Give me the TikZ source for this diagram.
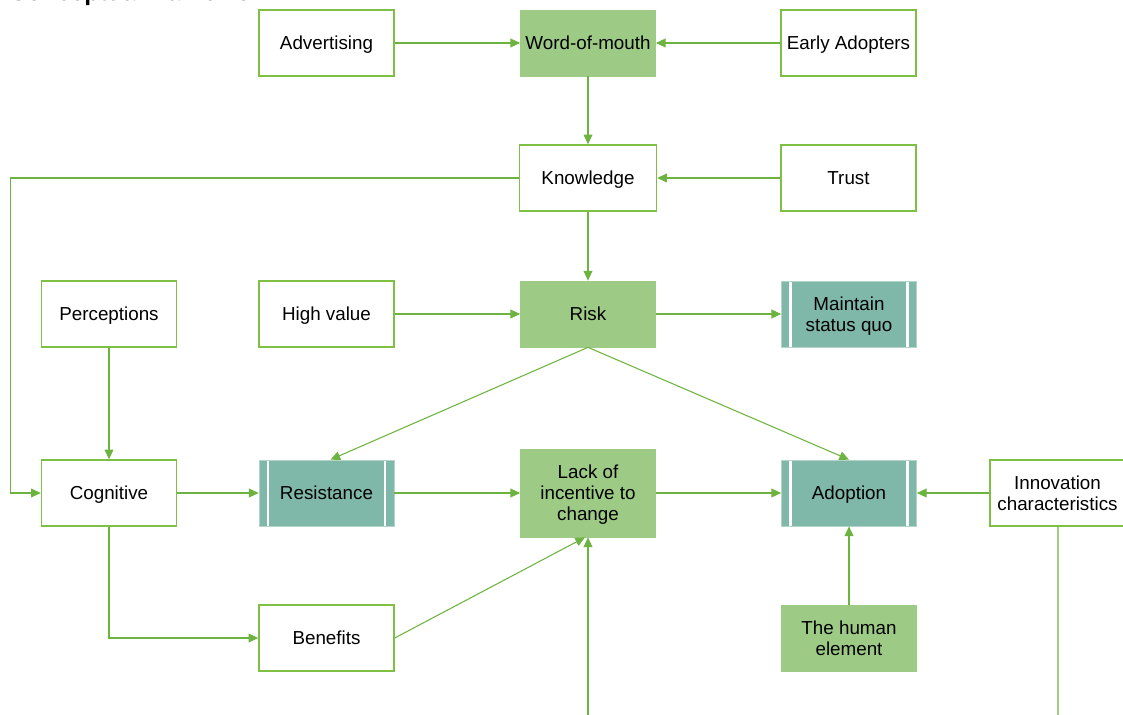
\documentclass[tikz,border=0pt]{standalone}
\usepackage{fontspec}
\setmainfont{Liberation Sans}
\usetikzlibrary{arrows.meta}
\definecolor{boxline}{HTML}{7DC044}
\definecolor{arrowline}{HTML}{6CB33F}
\definecolor{leaf}{HTML}{9DCB85}
\definecolor{teal}{HTML}{7FB8A9}
\begin{document}
\begin{tikzpicture}[every node/.style={font=\fontsize{10.7}{12}\selectfont},
  box/.style={draw=boxline, line width=0.8pt, fill=white, minimum width=2.7cm, minimum height=1.32cm, align=center, inner sep=1pt, text depth=0pt},
  hot/.style={fill=leaf, draw=leaf, minimum width=2.7cm, minimum height=1.32cm, align=center, inner sep=1pt, text depth=0pt},
  proc/.style={fill=teal, draw=teal!60!white, line width=0.4pt, minimum width=2.7cm, minimum height=1.32cm, align=center, inner sep=1pt, text depth=0pt,
    path picture={\draw[white, line width=1.2pt]
      ([xshift=0.18cm]path picture bounding box.north west) -- ([xshift=0.18cm]path picture bounding box.south west)
      ([xshift=-0.18cm]path picture bounding box.north east) -- ([xshift=-0.18cm]path picture bounding box.south east);}},
  link/.style={-{Triangle[length=5.5pt,width=5pt]}, arrowline, line width=0.6pt},
  plain/.style={arrowline, line width=0.6pt}]
\useasboundingbox (0,0) rectangle (22.46,-14.3);
\node[anchor=base west, font=\bfseries\fontsize{14}{16}\selectfont] (title) at (0.06,-0.02) {Conceptual framework};
% top row
\node[box] (adv) at (6.53,-0.86) {Advertising};
\node[hot] (wom) at (11.76,-0.86) {Word-of-mouth};
\node[box] (early) at (16.97,-0.86) {Early Adopters};
\node[box, minimum width=2.74cm] (know) at (11.76,-3.56) {Knowledge};
\node[box] (trust) at (16.97,-3.56) {Trust};
% middle row
\node[box] (perc) at (2.18,-6.28) {Perceptions};
\node[box] (high) at (6.53,-6.28) {High value};
\node[hot] (risk) at (11.76,-6.28) {Risk};
\node[proc] (quo) at (16.98,-6.28) {Maintain\\status quo};
% lower row
\node[box] (cog) at (2.18,-9.86) {Cognitive};
\node[proc] (res) at (6.53,-9.86) {Resistance};
\node[hot, minimum height=1.76cm] (lack) at (11.76,-9.86) {Lack of\\incentive to\\change};
\node[proc] (adopt) at (16.98,-9.86) {Adoption};
\node[box] (innov) at (21.15,-9.86) {Innovation\\characteristics};
\node[box] (ben) at (6.53,-12.76) {Benefits};
\node[hot] (human) at (16.98,-12.76) {The human\\element};
\coordinate (low) at (11.76,-14.4);
\coordinate (edge) at (21.16,-14.4);
\draw[link] (adv) -- (wom);
\draw[link] (early) -- (wom);
\draw[link] (wom) -- (know);
\draw[link] (trust) -- (know);
\draw[link] (know.west) -- ++(-10.16,0) |- (cog.west);
\draw[link] (know) -- (risk);
\draw[link] (high) -- (risk);
\draw[link] (risk) -- (quo);
\draw[link] (risk.south) -- ([xshift=0.08cm]res.north);
\draw[link] (risk.south) -- (adopt.north);
\draw[link] (perc) -- (cog);
\draw[link] (cog) -- (res);
\draw[link] (res) -- (lack);
\draw[link] (lack) -- (adopt);
\draw[link] (innov) -- (adopt);
\draw[link] (human) -- (adopt);
\draw[link] (cog.south) |- (ben.west);
\draw[link] (ben.east) -- ([xshift=-0.06cm]lack.south);
\draw[link] (low) -- (lack.south);
\draw[plain] ([xshift=0.01cm]innov.south) -- (edge);
\end{tikzpicture}
\end{document}
